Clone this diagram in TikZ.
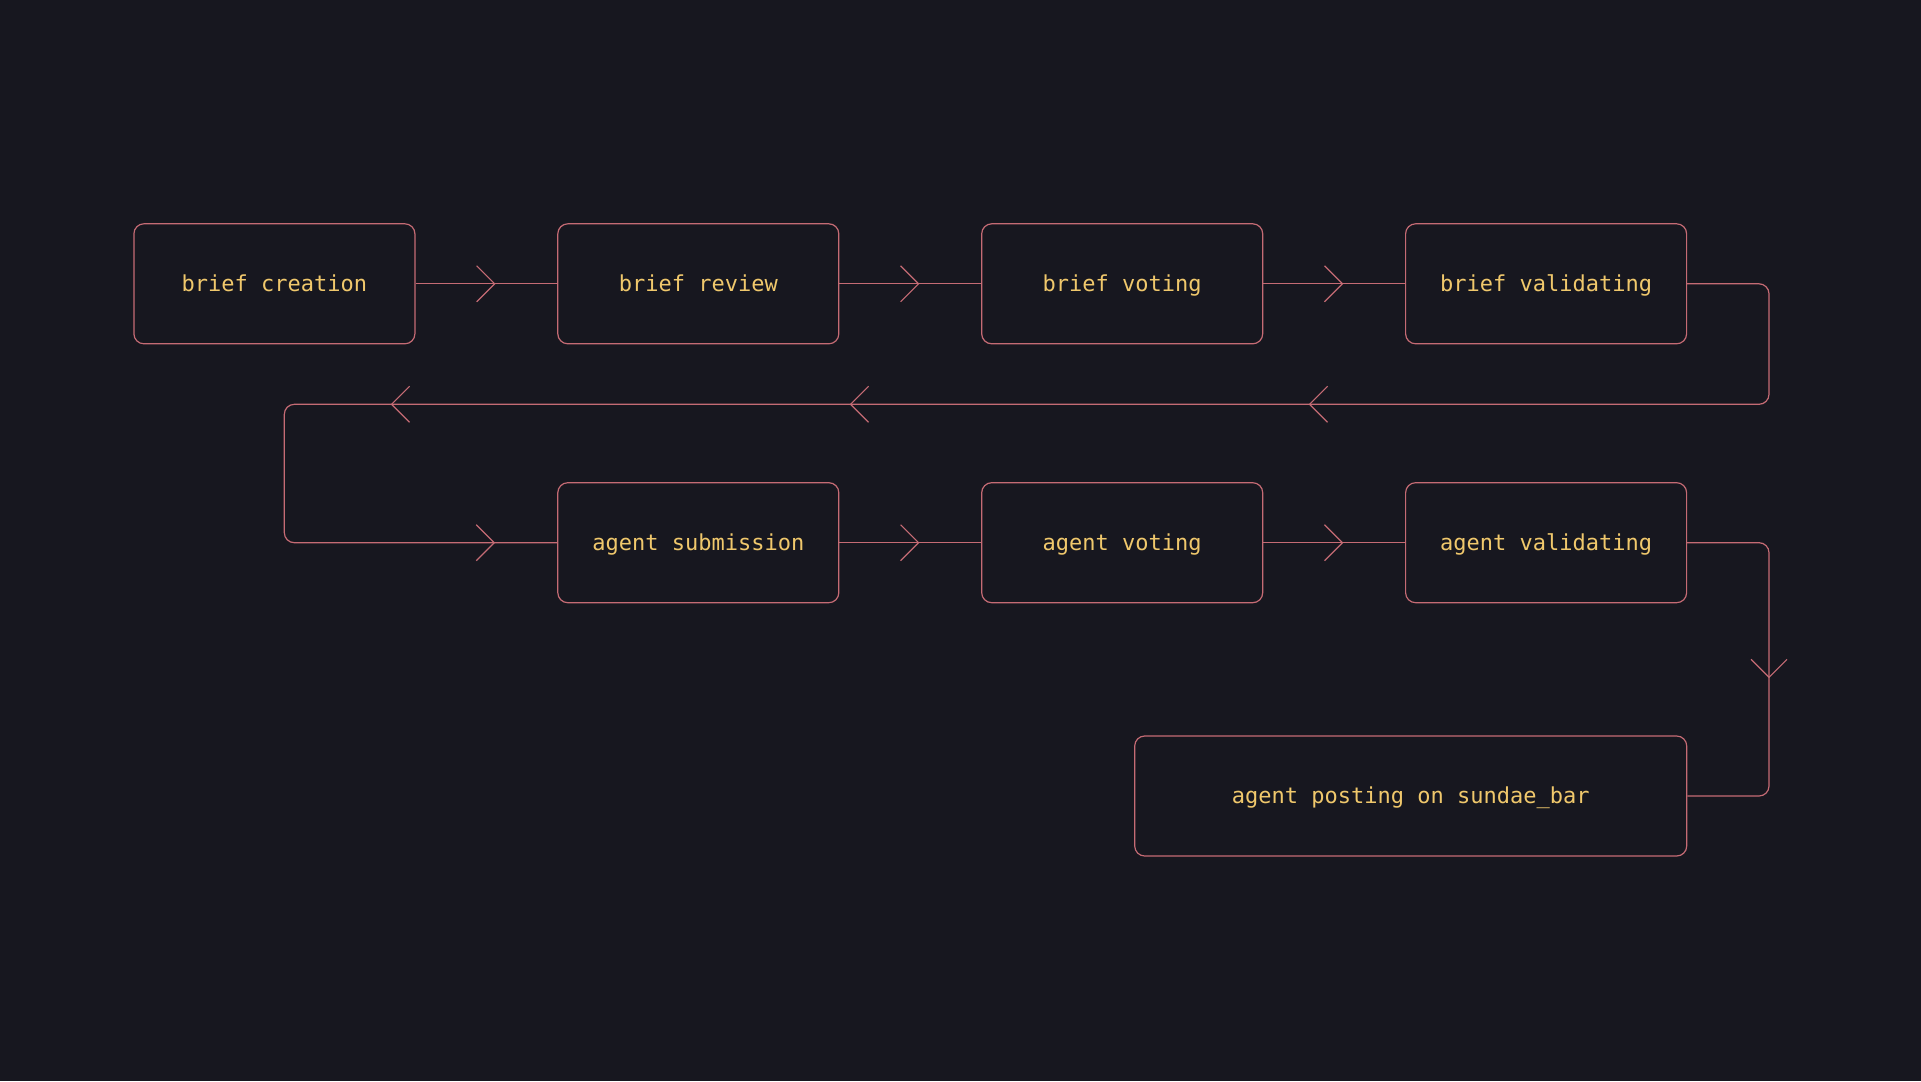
\documentclass[tikz,border=0pt]{standalone}
\usepackage{fontspec}
\newfontfamily\boxfont{DejaVu Sans Mono}
\usetikzlibrary{arrows.meta,decorations.markings}
\definecolor{canvas}{HTML}{17171F}
\definecolor{edge}{HTML}{C56B74}
\definecolor{label}{HTML}{F0C86C}
\tikzset{
  flowtip/.tip={Straight Barb[length=18pt,width=36pt,line width=1.2pt]},
  stagebox/.style={draw=edge, line width=1.2pt, rounded corners=10pt, fill=canvas,
    minimum width=281pt, minimum height=120pt, inner sep=0pt,
    text=label, font=\boxfont\fontsize{22}{26}\selectfont,
    text height=15.8pt, text depth=0pt},
  link/.style={draw=edge, line width=1.2pt, rounded corners=10pt},
  tipat/.style={postaction={decorate, decoration={markings,
    mark=at position #1 with {\arrow{flowtip}}}}}
}
\begin{document}
\begin{tikzpicture}[x=1pt,y=1pt]
\fill[canvas] (0,0) rectangle (1921,-1081);
\useasboundingbox (0,0) rectangle (1921,-1081);

% brief stages
\node[stagebox] (a) at (274.4,-283.8) {brief creation};
\node[stagebox] (b) at (698.3,-283.8) {brief review};
\node[stagebox] (c) at (1122.2,-283.8) {brief voting};
\node[stagebox] (d) at (1546.1,-283.8) {brief validating};

% agent stages
\node[stagebox] (e) at (698.3,-542.7) {agent submission};
\node[stagebox] (f) at (1122.2,-542.7) {agent voting};
\node[stagebox] (g) at (1546.1,-542.7) {agent validating};
\node[stagebox, minimum width=552pt] (h) at (1410.7,-796) {agent posting on sundae\_bar};

\coordinate (rr) at (1769,-404.3);
\coordinate (ll) at (284.3,-542.7);
\coordinate (rd) at (1769,-796);

\draw[link, tipat=80pt] (a) -- (b);
\draw[link, tipat=80pt] (b) -- (c);
\draw[link, tipat=80pt] (c) -- (d);
\draw[link, tipat=654pt, tipat=1113pt, tipat=1572pt, tipat=2019pt] (d.east) -| (rr) -| (ll) -- (e.west);
\draw[link, tipat=80pt] (e) -- (f);
\draw[link, tipat=80pt] (f) -- (g);
\draw[link, tipat=213pt] (g.east) -| (rd) -- (h.east);
\end{tikzpicture}
\end{document}
